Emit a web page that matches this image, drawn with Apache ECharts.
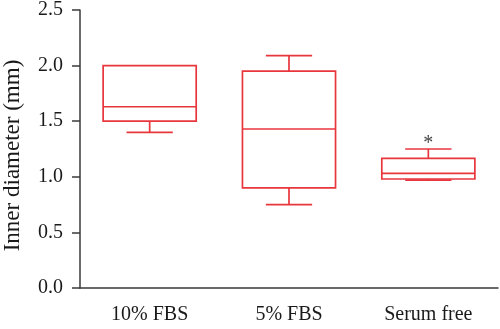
<!DOCTYPE html>
<html>
<head>
<meta charset="utf-8">
<script src="https://cdn.jsdelivr.net/npm/echarts@6/dist/echarts.min.js"></script>
<style>html,body{margin:0;padding:0;background:#fff}#c{width:500px;height:329px}</style>
</head>
<body>
<div id="c"></div>
<script>
const categories = ['10% FBS', '5% FBS', 'Serum free'];
const whiskerMin = [1.40, 0.75, 0.97];
const q1 = [1.50, 0.90, 0.98];
const median = [1.63, 1.43, 1.03];
const q3 = [2.00, 1.95, 1.165];
const whiskerMax = [2.00, 2.09, 1.25];
const starLabels = ['', '', '*'];
const starValues = [null, null, 1.385];
const yTicks = [0, 0.5, 1.0, 1.5, 2.0, 2.5];

const RED = '#e8363d';
const FONT = '"Liberation Serif", "Times New Roman", serif';

const boxData = categories.map((c, i) => [i, whiskerMin[i], q1[i], median[i], q3[i], whiskerMax[i]]);
const starData = categories.map((c, i) => [i, starValues[i], starLabels[i]]).filter(d => d[1] !== null);

const chart = echarts.init(document.getElementById('c'), null, {renderer: 'canvas'});
chart.setOption({
  animation: false,
  grid: {left: 80, right: 2, top: 10, bottom: 41, containLabel: false, outerBoundsMode: 'none'},
  xAxis: {
    type: 'category',
    data: categories,
    boundaryGap: true,
    axisLine: {lineStyle: {color: '#3a3a3a', width: 1.5}},
    axisTick: {alignWithLabel: true, length: 7, lineStyle: {color: '#3a3a3a', width: 1.5}},
    axisLabel: {fontFamily: FONT, fontSize: 20, color: '#1a1a1a', margin: 17}
  },
  yAxis: {
    type: 'value',
    min: yTicks[0], max: yTicks[yTicks.length - 1], interval: 0.5,
    name: 'Inner diameter (mm)',
    nameLocation: 'middle',
    nameGap: 56,
    nameTextStyle: {fontFamily: FONT, fontSize: 23, color: '#1a1a1a', padding: [0, 13, 0, 0]},
    axisLine: {show: true, lineStyle: {color: '#3a3a3a', width: 1.5}},
    axisTick: {show: true, inside: false, length: 8, lineStyle: {color: '#3a3a3a', width: 1.5}},
    splitLine: {show: false},
    axisLabel: {fontFamily: FONT, fontSize: 20, color: '#1a1a1a', margin: 17,
      formatter: v => v.toFixed(1)}
  },
  series: [
    {
      type: 'custom',
      data: boxData,
      renderItem: function (params, api) {
        const x = api.value(0);
        const band = api.size([1, 0])[0];
        const hw = band * 0.334;
        const cw = band * 0.166;
        const pMin = api.coord([x, api.value(1)]);
        const pQ1 = api.coord([x, api.value(2)]);
        const pMed = api.coord([x, api.value(3)]);
        const pQ3 = api.coord([x, api.value(4)]);
        const pMax = api.coord([x, api.value(5)]);
        const cx = pMed[0];
        const style = {stroke: RED, lineWidth: 1.7, fill: null};
        const children = [
          {type: 'rect', shape: {x: cx - hw, y: pQ3[1], width: hw * 2, height: pQ1[1] - pQ3[1]}, style: {stroke: RED, lineWidth: 1.7, fill: 'transparent'}},
          {type: 'line', shape: {x1: cx - hw, y1: pMed[1], x2: cx + hw, y2: pMed[1]}, style: style}
        ];
        if (pMax[1] < pQ3[1] - 0.5) {
          children.push({type: 'line', shape: {x1: cx, y1: pQ3[1], x2: cx, y2: pMax[1]}, style: style});
          children.push({type: 'line', shape: {x1: cx - cw, y1: pMax[1], x2: cx + cw, y2: pMax[1]}, style: style});
        }
        if (pMin[1] > pQ1[1] + 0.5) {
          children.push({type: 'line', shape: {x1: cx, y1: pQ1[1], x2: cx, y2: pMin[1]}, style: style});
          children.push({type: 'line', shape: {x1: cx - cw, y1: pMin[1], x2: cx + cw, y2: pMin[1]}, style: style});
        } else {
          children.push({type: 'line', shape: {x1: cx - cw, y1: pMin[1], x2: cx + cw, y2: pMin[1]}, style: style});
        }
        return {type: 'group', children: children};
      }
    },
    {
      type: 'custom',
      data: starData,
      renderItem: function (params, api) {
        const p = api.coord([api.value(0), api.value(1)]);
        return {
          type: 'text',
          x: p[0], y: p[1],
          style: {text: starLabels[api.value(0)], fontFamily: FONT, fontSize: 20, fill: '#444', align: 'center', verticalAlign: 'top'}
        };
      }
    }
  ]
});
</script>
</body>
</html>
